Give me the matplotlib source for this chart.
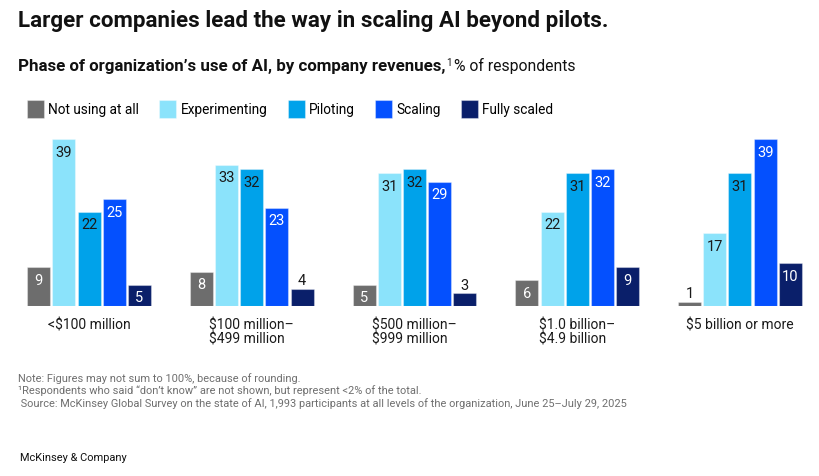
import matplotlib.pyplot as plt
import numpy as np

# data
groups = ['<$100 million', '$100 million–\n$499 million', '$500 million–\n$999 million',
          '$1.0 billion–\n$4.9 billion', '$5 billion or more']
phases = ['Not using at all', 'Experimenting', 'Piloting', 'Scaling', 'Fully scaled']
not_using = [9, 8, 5, 6, 1]
experimenting = [39, 33, 31, 22, 17]
piloting = [22, 32, 32, 31, 31]
scaling = [25, 23, 29, 32, 39]
fully_scaled = [5, 4, 3, 9, 10]

colors = ['#6d6d6d', '#8be3fb', '#00a2ea', '#0450fe', '#0a1f6a']
label_colors = ['white', '#1a1a1a', '#1a1a1a', 'white', 'white']

plt.rcParams['font.family'] = ['Roboto', 'DejaVu Sans']

W, H = 820, 477
fig = plt.figure(figsize=(W / 100, H / 100), dpi=100)

# axes in pixel layout: baseline at y=307, 4.28 px per unit
base_px, top_px = 307, 130
ax = fig.add_axes([0, 1 - base_px / H, 1, (base_px - top_px) / H])
step = 162.75
ax.set_xlim(-89 / step, (W - 89) / step)
ax.set_ylim(0, (base_px - top_px) / 4.28)
ax.axis('off')

series = [not_using, experimenting, piloting, scaling, fully_scaled]
x = np.arange(len(groups))
off = 25.2 / step
bw = 23 / step
for k, vals in enumerate(series):
    xs = x + (k - 2) * off
    ax.bar(xs, vals, width=bw, color=colors[k], edgecolor=(1, 1, 1, 0.35),
           linewidth=0.8, label=phases[k])
    for xi, v in zip(xs, vals):
        if v >= 5:
            ax.annotate(str(v), (xi, v), xytext=(0, -4), textcoords='offset points',
                        ha='center', va='top', fontsize=10.5, color=label_colors[k])
        else:
            ax.annotate(str(v), (xi, v), xytext=(0, 1), textcoords='offset points',
                        ha='center', va='bottom', fontsize=10.5, color='#1a1a1a')

for xi, g in zip(x, groups):
    ax.annotate(g, (xi, 0), xytext=(0, -8), textcoords='offset points',
                ha='center', va='top', multialignment='left', fontsize=10,
                color='#1a1a1a', linespacing=1.05, annotation_clip=False)

# titles
fig.text(18 / W, 1 - 21 / H, 'Larger companies lead the way in scaling AI beyond pilots.',
         fontsize=16.1, fontweight='bold', va='center', ha='left', color='#111111')
sub = fig.text(18 / W, 1 - 66 / H, 'Phase of organization’s use of AI, by company revenues,',
               fontsize=12.2, fontweight='bold', va='center', ha='left', color='#111111')
fig.canvas.draw()
bb = sub.get_window_extent()
fig.text(bb.x1 + 0.5, bb.y1 + 1, '1', fontsize=7, va='top', ha='left', color='#111111',
         transform=None)
fig.text(bb.x1 + 9, (bb.y0 + bb.y1) / 2, '% of respondents', fontsize=11.3, va='center',
         ha='left', color='#111111', transform=None)

fig.legend(loc='center left', bbox_to_anchor=(27 / W, 1 - 110 / H), ncol=5, frameon=False,
           fontsize=9.8, handlelength=1.25, handleheight=1.55, handletextpad=0.3,
           columnspacing=1.5, borderaxespad=0, borderpad=0)

# notes
note_col = '#6f6f6f'
fig.text(18 / W, 1 - 379 / H, 'Note: Figures may not sum to 100%, because of rounding.',
         fontsize=7.9, color=note_col, va='center')
fig.text(18 / W, 1 - 391 / H, '¹Respondents who said “don’t know” are not shown, but represent <2% of the total.',
         fontsize=7.9, color=note_col, va='center')
fig.text(18 / W, 1 - 404 / H, ' Source: McKinsey Global Survey on the state of AI, 1,993 participants at all levels of the organization, June 25–July 29, 2025',
         fontsize=7.9, color=note_col, va='center')
fig.text(20 / W, 1 - 458 / H, 'McKinsey & Company', fontsize=7.9, color='#111111', va='center')

fig.savefig('out.png', dpi=100, facecolor='white')
